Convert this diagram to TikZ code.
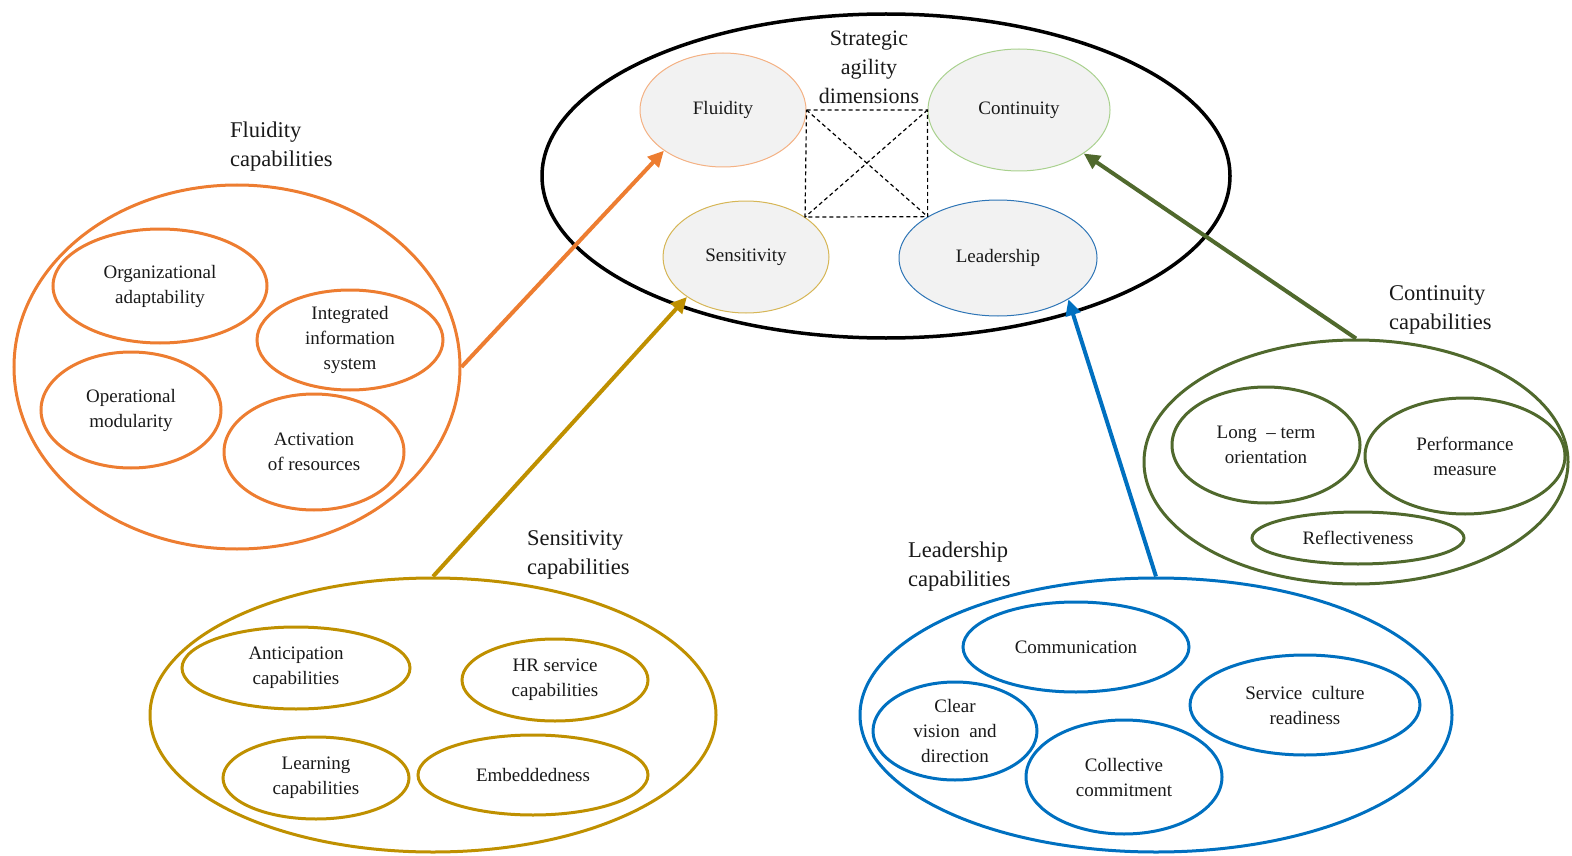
\documentclass[tikz,border=0pt]{standalone}
\usepackage{fontspec}
\setmainfont{Liberation Serif}
\usetikzlibrary{shapes.geometric,arrows.meta}

\definecolor{fluidcol}{RGB}{237,125,49}
\definecolor{senscol}{RGB}{191,144,0}
\definecolor{leadcol}{RGB}{0,112,192}
\definecolor{contcol}{RGB}{80,105,45}
\definecolor{fluidlight}{RGB}{244,177,131}
\definecolor{senslight}{RGB}{214,182,86}
\definecolor{leadlight}{RGB}{46,117,182}
\definecolor{contlight}{RGB}{169,209,142}
\definecolor{dimfill}{RGB}{242,242,242}
\definecolor{txt}{RGB}{25,25,25}

\tikzset{
  dimbox/.style={ellipse, draw=#1, fill=dimfill, line width=1pt, inner sep=0pt,
    text=txt, font=\fontsize{19}{24}\selectfont},
  capgroup/.style={ellipse, draw=#1, line width=3pt, inner sep=0pt},
  capitem/.style={ellipse, draw=#1, line width=3pt, inner sep=0pt, align=center,
    text=txt, font=\fontsize{19}{25}\selectfont},
  grouptitle/.style={anchor=west, align=left, inner sep=0pt, text=txt,
    font=\fontsize{22.5}{29}\selectfont},
  feed/.style={draw=#1, line width=4pt, -{Triangle[length=16pt,width=15pt]}},
  link/.style={dash pattern=on 4pt off 3pt, line width=1.2pt},
}

\begin{document}
\begin{tikzpicture}[x=1pt,y=-1pt]
  \useasboundingbox (0,0) rectangle (1572,856);

  % strategic agility dimensions
  \node[ellipse, draw, line width=3.5pt, minimum width=688, minimum height=324, inner sep=0pt] (core) at (886,176) {};
  \node[align=center, inner sep=0pt, text=txt, font=\fontsize{22}{29}\selectfont] (coretitle) at (869,67) {Strategic\\agility\\dimensions};

  \node[dimbox=fluidlight, minimum width=166, minimum height=114] (fluid) at (723,110) {Fluidity};
  \node[dimbox=contlight, minimum width=182, minimum height=122] (cont) at (1019,110) {Continuity};
  \node[dimbox=senslight, minimum width=166, minimum height=112] (sens) at (746,257) {Sensitivity};
  \node[dimbox=leadlight, minimum width=198, minimum height=116] (lead) at (998,258) {Leadership};

  \draw[link] (fluid.east) -- (cont.west) -- (lead.north west) -- (sens.north east) -- cycle;
  \draw[link] (fluid.east) -- (lead.north west);
  \draw[link] (cont.west) -- (sens.north east);

  % fluidity capabilities
  \node[grouptitle] (fcaptitle) at (230,147) {Fluidity\\capabilities};
  \node[capgroup=fluidcol, minimum width=446, minimum height=364] (fcap) at (237,367) {};
  \node[capitem=fluidcol, minimum width=214, minimum height=114] (orgad) at (160,286) {Organizational\\adaptability};
  \node[capitem=fluidcol, minimum width=186, minimum height=100] (infosys) at (350,340) {Integrated\\information\\system};
  \node[capitem=fluidcol, minimum width=180, minimum height=116] (opmod) at (131,410) {Operational\\modularity};
  \node[capitem=fluidcol, minimum width=180, minimum height=116] (actres) at (314,452) {Activation\\of resources};

  % sensitivity capabilities
  \node[grouptitle] (scaptitle) at (527,555) {Sensitivity\\capabilities};
  \node[capgroup=senscol, minimum width=566, minimum height=274] (scap) at (433,715) {};
  \node[capitem=senscol, minimum width=228, minimum height=82] (antic) at (296,668) {Anticipation\\capabilities};
  \node[capitem=senscol, minimum width=186, minimum height=82] (hrserv) at (555,680) {HR service\\capabilities};
  \node[capitem=senscol, minimum width=186, minimum height=82] (learn) at (316,778) {Learning\\capabilities};
  \node[capitem=senscol, minimum width=230, minimum height=80] (embed) at (533,775) {Embeddedness};

  % leadership capabilities
  \node[grouptitle] (lcaptitle) at (908,567) {Leadership\\capabilities};
  \node[capgroup=leadcol, minimum width=592, minimum height=274] (lcap) at (1156,715) {};
  \node[capitem=leadcol, minimum width=226, minimum height=90] (comm) at (1076,647) {Communication};
  \node[capitem=leadcol, minimum width=164, minimum height=98] (vision) at (955,731) {Clear\\vision\ \ and\\direction};
  \node[capitem=leadcol, minimum width=230, minimum height=100] (servcult) at (1305,705) {Service\ \ culture\\readiness};
  \node[capitem=leadcol, minimum width=196, minimum height=114] (collect) at (1124,777) {Collective\\commitment};

  % continuity capabilities
  \node[grouptitle] (ccaptitle) at (1389,310) {Continuity\\capabilities};
  \node[capgroup=contcol, minimum width=424, minimum height=244] (ccap) at (1356,462) {};
  \node[capitem=contcol, minimum width=188, minimum height=116] (longterm) at (1266,445) {Long\ \ -- term\\orientation};
  \node[capitem=contcol, minimum width=200, minimum height=116] (perf) at (1465,456) {Performance\\measure};
  \node[capitem=contcol, minimum width=212, minimum height=52] (reflect) at (1358,538) {Reflectiveness};

  % links from capability groups to dimensions
  \draw[feed=fluidcol] (fcap.east) -- (fluid.south west);
  \draw[feed=senscol] (scap.north) -- (sens.south west);
  \draw[feed=leadcol] (lcap.north) -- (lead.south east);
  \draw[feed=contcol] (ccap.north) -- (cont.south east);
\end{tikzpicture}
\end{document}
